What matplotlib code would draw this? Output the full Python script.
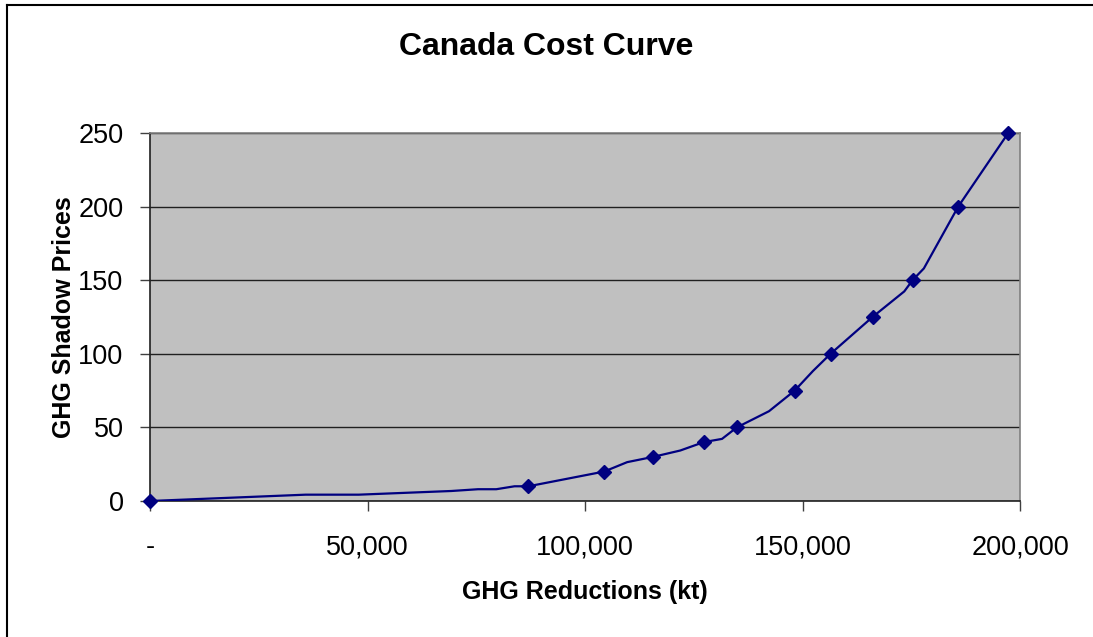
import matplotlib

matplotlib.use("Agg")
import matplotlib.pyplot as plt  # noqa: E402
from matplotlib.lines import Line2D  # noqa: E402
from matplotlib.ticker import FuncFormatter  # noqa: E402

NAVY = "#000080"
PLOT_BG = "#c0c0c0"

# full cost curve (kt reduced, shadow price)
CURVE_X = [0, 35800, 48000, 69300, 75400, 79600, 83800, 87000, 104400,
           109700, 115700, 121900, 127300, 131500, 134900, 142300, 148200,
           152400, 156450, 166100, 173400, 175300, 177900, 185800, 197300]
CURVE_Y = [0, 4.3, 4.3, 6.8, 8, 8, 10, 10, 20,
           26.4, 30, 34.3, 40, 42.2, 50, 61, 75,
           88.3, 100, 125, 142.4, 150, 158, 200, 250]

# price points shown as markers
PTS_X = [0, 87000, 104400, 115700, 127300, 134900, 148200, 156450,
         166100, 175300, 185800, 197300]
PTS_Y = [0, 10, 20, 30, 40, 50, 75, 100, 125, 150, 200, 250]

X_TICKS = [0, 50000, 100000, 150000, 200000]
Y_TICKS = [0, 50, 100, 150, 200, 250]

plt.rcParams["font.family"] = ["Liberation Sans", "DejaVu Sans"]

fig = plt.figure(figsize=(10.93, 6.37), dpi=100)
ax = fig.add_axes([150 / 1093, 1 - 501 / 637, 870 / 1093, 368 / 637])
ax.set_facecolor(PLOT_BG)

ax.plot(CURVE_X, CURVE_Y, color=NAVY, lw=1.6, zorder=3)
ax.plot(PTS_X, PTS_Y, ls="none", marker="D", ms=7.5, color=NAVY, zorder=4,
        clip_on=False)

ax.set_xlim(0, 200000)
ax.set_ylim(0, 250)
ax.set_xticks(X_TICKS)
ax.set_yticks(Y_TICKS)
ax.xaxis.set_major_formatter(FuncFormatter(lambda v, p: "-" if v == 0 else f"{v:,.0f}"))
ax.tick_params(axis="both", direction="out", length=7, width=1, color="#404040",
               labelsize=19.5)
ax.tick_params(axis="x", pad=17)
ax.tick_params(axis="y", pad=12)
ax.yaxis.grid(True, color="#202020", lw=1)
ax.set_axisbelow(True)

for s in ("top", "right"):
    ax.spines[s].set_color("#808080")
    ax.spines[s].set_linewidth(1.2)
for s in ("left", "bottom"):
    ax.spines[s].set_color("#202020")
    ax.spines[s].set_linewidth(1.2)

ax.set_xlabel("GHG Reductions (kt)", fontsize=18, fontweight="bold", labelpad=14)
ax.set_ylabel("GHG Shadow Prices", fontsize=18, fontweight="bold", labelpad=2)
fig.text(0.5, 1 - 47 / 637, "Canada Cost Curve", ha="center", va="center",
         fontsize=23, fontweight="bold")

# chart frame (only top/left edges fall inside the image)
fig.add_artist(Line2D([7 / 1093, 1.0], [1 - 5 / 637] * 2, color="black",
                      lw=1.5, transform=fig.transFigure))
fig.add_artist(Line2D([7 / 1093] * 2, [0.0, 1 - 5 / 637], color="black",
                      lw=1.5, transform=fig.transFigure))

fig.savefig("out.png", dpi=100)
